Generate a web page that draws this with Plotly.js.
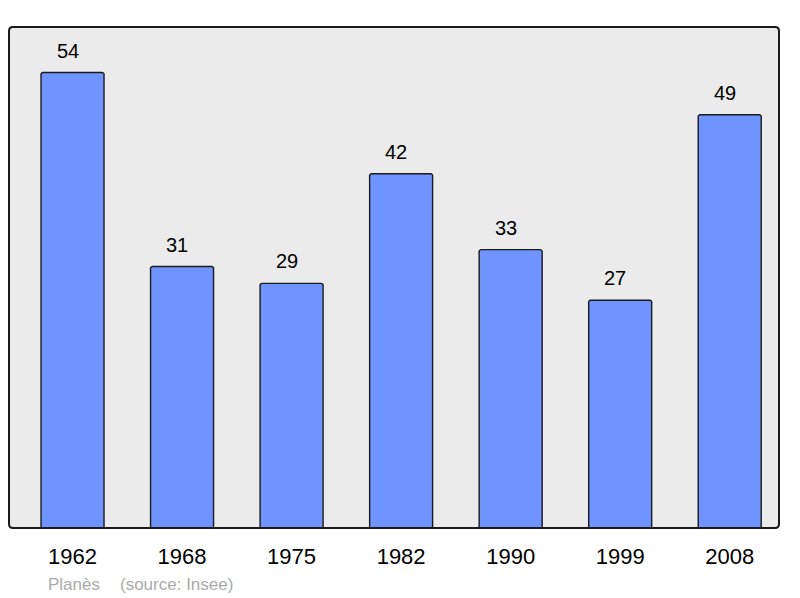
<!DOCTYPE html>
<html><head><meta charset="utf-8">
<script src="https://cdn.plot.ly/plotly-3.0.1.min.js"></script>
<style>html,body{margin:0;padding:0;background:#fff;}#c{width:800px;height:598px;}</style>
</head><body><div id="c"></div>
<script>
const years = ["1962","1968","1975","1982","1990","1999","2008"];
const population = [54,31,29,42,33,27,49];
const placeName = "Planès";
const sourceText = "(source: Insee)";

const FONT = 'Liberation Sans, Arial, sans-serif';
const ann = [];
for (let i = 0; i < years.length; i++) {
  ann.push({x:i, y:population[i], xref:'x', yref:'y', text:String(population[i]),
    showarrow:false, yanchor:'bottom', yshift:9, xshift:-5,
    font:{family:FONT, size:20, color:'#000'}});
}
ann.push({x:0, y:0, xref:'paper', yref:'paper', xanchor:'left', yanchor:'middle', showarrow:false,
  text:placeName, xshift:37, yshift:-56, font:{family:FONT, size:17, color:'#aaaaaa'}});
ann.push({x:0, y:0, xref:'paper', yref:'paper', xanchor:'left', yanchor:'middle', showarrow:false,
  text:sourceText, xshift:109, yshift:-56, font:{family:FONT, size:17, color:'#aaaaaa'}});

// rounded frame path in paper coordinates
const rx = 4/770, ry = 4/501;
const framePath = `M ${rx},0 L ${1-rx},0 Q 1,0 1,${ry} L 1,${1-ry} Q 1,1 ${1-rx},1 L ${rx},1 Q 0,1 0,${1-ry} L 0,${ry} Q 0,0 ${rx},0 Z`;

Plotly.newPlot('c', [{
  type:'bar', x:years, y:population, width:0.575,
  marker:{color:'#7094ff', line:{color:'#1a1a1a', width:1.4}, cornerradius:3},
  hoverinfo:'skip', cliponaxis:false
}], {
  width:800, height:598,
  margin:{l:9, r:21, t:27, b:70},
  paper_bgcolor:'#fff', plot_bgcolor:'#ebebeb',
  xaxis:{type:'category', range:[-0.58,6.45], showgrid:false, zeroline:false, showline:false, ticks:'',
    tickfont:{family:FONT, size:22, color:'#000'}, ticklabelstandoff:13},
  yaxis:{range:[0,59.4], showgrid:false, zeroline:false, showticklabels:false, ticks:'', showline:false},
  shapes:[{type:'path', xref:'paper', yref:'paper', path:framePath, line:{color:'#1a1a1a', width:2}}],
  annotations:ann, showlegend:false, bargap:0
}, {staticPlot:true});
</script></body></html>
